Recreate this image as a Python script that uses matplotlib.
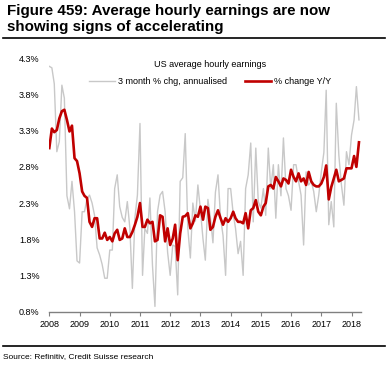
import numpy as np
import pandas as pd
import matplotlib
matplotlib.use('Agg')
import matplotlib.pyplot as plt
import matplotlib.dates as mdates

plt.rcParams['font.family'] = ['Liberation Sans', 'DejaVu Sans']

# monthly data, Jan 2008 - Apr 2018
months = pd.date_range('2008-01-01', '2018-04-01', freq='MS')

yoy = [3.06, 3.33, 3.28, 3.31, 3.47, 3.57, 3.59, 3.45, 3.29, 3.37, 2.92, 2.88,
       2.71, 2.46, 2.40, 2.37, 2.04, 1.97, 2.09, 2.09, 1.81, 1.81, 1.89, 1.79,
       1.83, 1.77, 1.88, 1.93, 1.79, 1.81, 1.95, 1.83, 1.83, 1.90, 2.00, 2.11,
       2.30, 1.97, 1.97, 2.07, 2.02, 2.04, 1.77, 1.79, 2.13, 2.11, 1.77, 1.95,
       1.72, 1.81, 2.00, 1.51, 1.88, 2.11, 2.12, 2.16, 1.95, 2.02, 2.13, 2.11,
       2.25, 2.07, 2.25, 2.23, 1.93, 1.97, 2.11, 2.20, 2.09, 2.00, 2.09, 2.04,
       2.09, 2.18, 2.09, 2.04, 2.04, 2.02, 2.16, 1.95, 2.20, 2.23, 2.34, 2.18,
       2.13, 2.25, 2.30, 2.53, 2.55, 2.50, 2.66, 2.60, 2.53, 2.64, 2.62, 2.57,
       2.76, 2.66, 2.60, 2.71, 2.60, 2.64, 2.55, 2.73, 2.60, 2.55, 2.53, 2.53,
       2.57, 2.66, 2.82, 2.35, 2.52, 2.64, 2.76, 2.60, 2.62, 2.64, 2.78, 2.78,
       2.78, 2.95, 2.80, 3.14]

ann3m = [4.19, 4.17, 3.95, 3.01, 3.15, 3.93, 3.75, 2.40, 2.22, 2.60, 2.18, 1.50,
         1.47, 2.18, 2.18, 2.36, 2.41, 2.30, 2.13, 1.68, 1.58, 1.45, 1.26, 1.26,
         1.65, 1.65, 2.50, 2.69, 2.25, 2.10, 2.04, 2.32, 1.95, 1.12, 2.10, 2.41,
         3.40, 1.30, 1.95, 1.88, 2.37, 1.44, 0.87, 2.18, 2.41, 2.46, 2.18, 1.62,
         1.30, 1.72, 1.70, 1.03, 2.60, 2.65, 3.26, 1.95, 1.54, 2.30, 2.05, 2.55,
         2.20, 1.80, 1.51, 2.35, 2.10, 1.75, 2.45, 2.69, 2.10, 1.85, 1.30, 2.50,
         2.50, 2.15, 1.95, 1.60, 1.77, 1.30, 2.50, 2.69, 3.13, 2.04, 3.06, 2.32,
         2.23, 2.50, 2.13, 3.06, 2.50, 2.83, 2.09, 2.83, 2.40, 3.20, 2.50, 2.40,
         2.20, 2.83, 2.83, 2.60, 2.41, 1.72, 2.73, 2.55, 2.60, 2.46, 2.18, 2.41,
         2.73, 3.00, 3.86, 2.00, 2.32, 1.97, 3.68, 2.96, 2.55, 2.27, 3.01, 2.83,
         3.24, 3.45, 3.91, 3.45]

yticks = [0.8, 1.3, 1.8, 2.3, 2.8, 3.3, 3.8, 4.3]
years = list(range(2008, 2019))

fig = plt.figure(figsize=(3.91, 3.66), dpi=100)
ax = fig.add_axes([0.1261, 0.1489, 0.7964, 0.6915])

ax.plot(months, ann3m, color='#c8c8c8', lw=1.0, label='3 month % chg, annualised')
ax.plot(months, yoy, color='#c00000', lw=1.9, label='% change Y/Y')

ax.set_ylim(0.8, 4.3)
ax.set_yticks(yticks)
ax.set_yticklabels(['%.1f%%' % v for v in yticks])
ax.set_xlim(pd.Timestamp('2008-01-01'), pd.Timestamp('2018-04-22'))
ax.set_xticks([pd.Timestamp('%d-01-01' % y) for y in years])
ax.xaxis.set_major_formatter(mdates.DateFormatter('%Y'))

for s in ['left', 'right', 'top']:
    ax.spines[s].set_visible(False)
ax.spines['bottom'].set_color('#808080')
ax.spines['bottom'].set_linewidth(1.0)
ax.tick_params(axis='y', length=0, labelsize=6.5, pad=7)
ax.tick_params(axis='x', length=3, color='#808080', labelsize=6.5, pad=3)

leg = ax.legend(title='US average hourly earnings', ncol=2, frameon=False,
                fontsize=6.5, title_fontsize=6.5, handlelength=2.9,
                handletextpad=0.35, columnspacing=2.0, labelspacing=0.85,
                loc='upper left', bbox_to_anchor=(0.1, 1.025))

fig.text(0.018, 0.99, 'Figure 459: Average hourly earnings are now\nshowing signs of accelerating',
         fontsize=10.9, fontweight='bold', va='top', ha='left', linespacing=1.2)
fig.add_artist(plt.Line2D([0.008, 0.985], [0.895, 0.895], color='black', lw=1.2))
fig.add_artist(plt.Line2D([0.008, 0.985], [0.055, 0.055], color='black', lw=1.2))
fig.text(0.008, 0.027, 'Source: Refinitiv, Credit Suisse research', fontsize=6,
         va='center', ha='left')

fig.savefig('out.png', dpi=100)
